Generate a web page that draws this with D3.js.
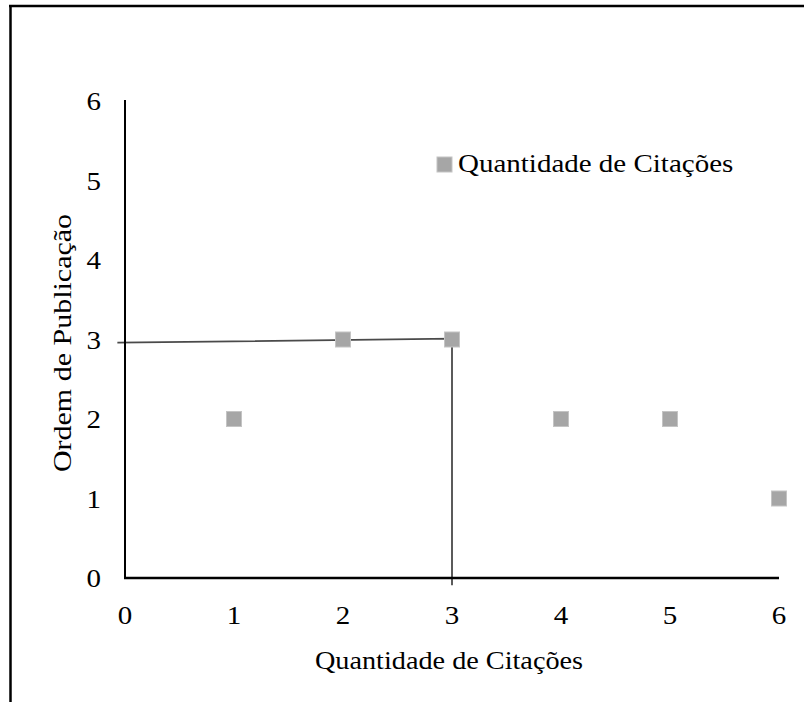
<!DOCTYPE html>
<html>
<head>
<meta charset="utf-8">
<script src="https://cdn.jsdelivr.net/npm/d3@7"></script>
<style>
  body { margin: 0; background: #fff; }
  text { font-family: "Liberation Serif", "Times New Roman", serif; fill: #000; }
</style>
</head>
<body>
<svg id="chart" width="804" height="702"></svg>
<script>
// data
var citacoes = [1, 2, 3, 4, 5, 6];
var ordem = [2, 3, 3, 2, 2, 1];
var xTicks = [0, 1, 2, 3, 4, 5, 6];
var yTicks = [0, 1, 2, 3, 4, 5, 6];
var guide = [[-0.07, 2.96], [3, 3.01], [3, -0.09]];
var seriesName = "Quantidade de Citações";
var xTitle = "Quantidade de Citações";
var yTitle = "Ordem de Publicação";

var svg = d3.select("#chart");
var stretch = "scale(1.16,1)";

// frame
svg.append("line").attr("x1", 9).attr("x2", 804).attr("y1", 6).attr("y2", 6)
  .style("stroke", "#000").style("stroke-width", 2.5);
svg.append("line").attr("x1", 10.5).attr("x2", 10.5).attr("y1", 5).attr("y2", 702)
  .style("stroke", "#000").style("stroke-width", 2.5);

var x = d3.scaleLinear().domain([0, 6]).range([125, 779]);
var y = d3.scaleLinear().domain([0, 6]).range([578, 101]);

// guide lines
svg.append("path")
  .datum(guide)
  .attr("d", d3.line().x(function (d) { return x(d[0]); }).y(function (d) { return y(d[1]); }))
  .style("fill", "none")
  .style("stroke", "#4a4a4a")
  .style("stroke-width", 1.8);

// axes
svg.append("line").attr("x1", x(0)).attr("x2", x(0)).attr("y1", y(6) - 1).attr("y2", y(0))
  .style("stroke", "#000").style("stroke-width", 2);
svg.append("line").attr("x1", x(0) - 1).attr("x2", x(6)).attr("y1", y(0)).attr("y2", y(0))
  .style("stroke", "#000").style("stroke-width", 2.5);

// tick labels
svg.append("g").selectAll("text")
  .data(xTicks)
  .enter()
  .append("text")
  .attr("transform", function (d) { return "translate(" + x(d) + ",624) " + stretch; })
  .style("text-anchor", "middle")
  .style("font-size", "25px")
  .text(function (d) { return d; });

svg.append("g").selectAll("text")
  .data(yTicks)
  .enter()
  .append("text")
  .attr("transform", function (d) { return "translate(101," + (y(d) + 9) + ") " + stretch; })
  .style("text-anchor", "end")
  .style("font-size", "25px")
  .text(function (d) { return d; });

// points
var size = 15;
svg.append("g").selectAll("rect")
  .data(citacoes)
  .enter()
  .append("rect")
  .attr("x", function (d) { return x(d) - size / 2; })
  .attr("y", function (d, i) { return y(ordem[i]) - size / 2; })
  .attr("width", size)
  .attr("height", size)
  .style("fill", "#a6a6a6")
  .style("stroke", "#c4c4c4")
  .style("stroke-width", 1);

// legend
svg.append("rect")
  .attr("x", 437).attr("y", 157).attr("width", size).attr("height", size)
  .style("fill", "#a6a6a6").style("stroke", "#c4c4c4").style("stroke-width", 1);
svg.append("text")
  .attr("transform", "translate(458,172) " + stretch)
  .style("font-size", "25px")
  .text(seriesName);

// axis titles
svg.append("text")
  .attr("transform", "translate(449,669) scale(1.13,1)")
  .style("text-anchor", "middle")
  .style("font-size", "25px")
  .text(xTitle);
svg.append("text")
  .attr("transform", "translate(71,343) rotate(-90) scale(1.2,1)")
  .style("text-anchor", "middle")
  .style("font-size", "25px")
  .text(yTitle);
</script>
</body>
</html>
